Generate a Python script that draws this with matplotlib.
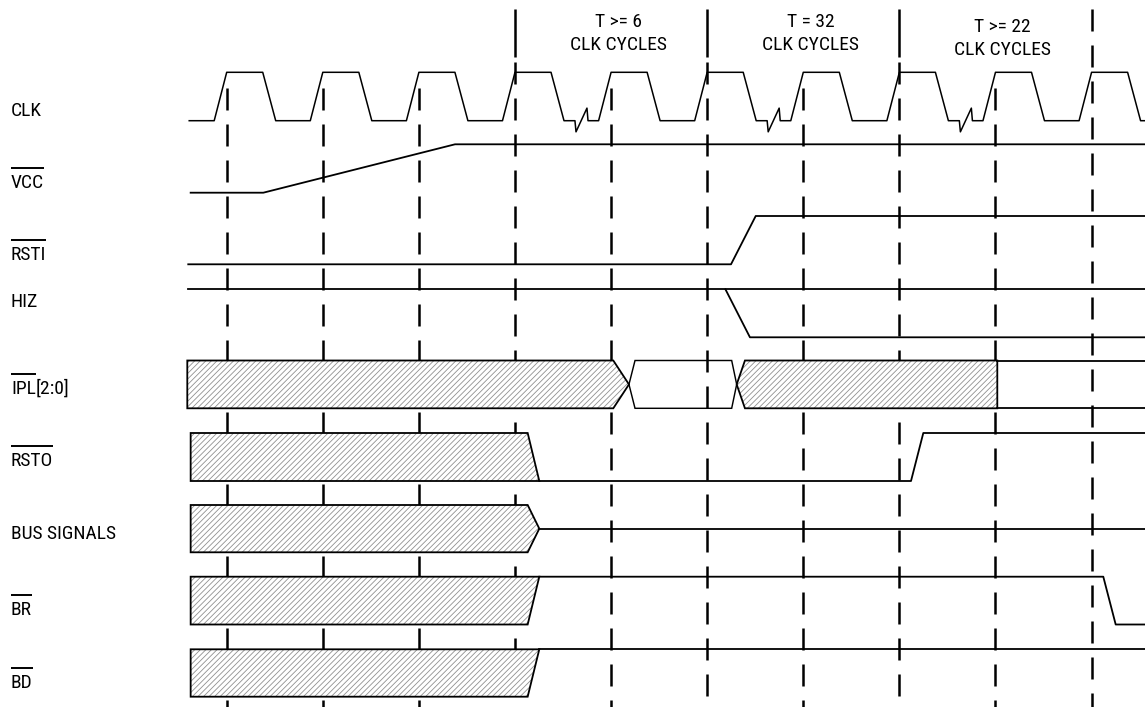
import matplotlib
matplotlib.use("Agg")
import matplotlib.pyplot as plt
from matplotlib import font_manager
from matplotlib.patches import Polygon
from matplotlib.transforms import blended_transform_factory

# time axis is measured in clock cycles, t=0 at the first dashed marker
T_START, T_END = -2.359, 9.556

# --- waveform data (time in cycles, level 0 = low, 1 = high) ---
clk_cycles = list(range(10))
clk_break_cycles = [3, 5, 7]
clk_shape_t = [0.0, 0.375, 0.51, 0.87]
clk_shape_v = [1, 1, 0, 0]
clk_break_t = [0.624, 0.635, 0.749, 0.76]
clk_break_v = [0, -0.23, 0.26, 0]

vcc_t = [-0.375, 0.381, 2.376, T_END]
vcc_v = [0, 0, 1, 1]
rsti_t = [-0.40, 5.248, 5.505, T_END]
rsti_v = [0, 0, 1, 1]
hiz_t = [-0.40, T_END]
hiz_v = [1, 1]
hiz_fall_t = [5.19, 5.445, T_END]
hiz_fall_v = [1, 0, 0]
rsto_t = [3.253, 7.121, 7.249, T_END]
rsto_v = [0, 0, 1, 1]
bus_t = [3.253, T_END]
bus_v = [0.5, 0.5]
br_t = [3.253, 9.122, 9.251, T_END]
br_v = [1, 1, 0, 0]
bd_t = [3.253, T_END]
bd_v = [1, 1]

# hatched (undefined) regions as (t, level) outlines
ipl_hatch_1 = [(-0.41, 0), (-0.41, 1), (4.023, 1), (4.186, 0.5), (4.023, 0)]
ipl_valid = [(4.186, 0.5), (4.249, 1), (5.255, 1), (5.307, 0.5), (5.255, 0), (4.249, 0)]
ipl_hatch_2 = [(5.307, 0.5), (5.393, 1), (8.019, 1), (8.019, 0), (5.393, 0)]
ipl_after_t = [8.019, T_END]
rsto_hatch = [(-0.375, 0), (-0.375, 1), (3.132, 1), (3.253, 0)]
bus_hatch = [(-0.375, 0), (-0.375, 1), (3.132, 1), (3.253, 0.5), (3.132, 0)]
br_hatch = [(-0.375, 0), (-0.375, 1), (3.253, 1), (3.132, 0)]
bd_hatch = [(-0.375, 0), (-0.375, 1), (3.253, 1), (3.132, 0)]

# --- layout: pixel rows (y of low level, y of high level) ---
rows = {
    "CLK": (120.7, 72.3),
    "VCC": (192.7, 144.3),
    "RSTI": (264.3, 216.0),
    "HIZ": (337.3, 289.3),
    "IPL": (408.3, 360.5),
    "RSTO": (481.0, 433.0),
    "BUS": (552.3, 505.0),
    "BR": (624.5, 576.7),
    "BD": (696.7, 649.3),
}

marker_t = list(range(10))
segment_marks = [3, 5, 7]

labels = [
    ("CLK", 116, False),
    ("VCC", 188, True),
    ("RSTI", 260, True),
    ("HIZ", 307, False),
    ("IPL", 394, True),
    ("RSTO", 466, True),
    ("BUS SIGNALS", 539, False),
    ("BR", 615, True),
    ("BD", 688, True),
]

notes = [
    (4.0, 27, "T >= 6"), (4.0, 50, "CLK CYCLES"),
    (6.0, 27, "T = 32"), (6.0, 50, "CLK CYCLES"),
    (8.0, 32, "T >= 22"), (8.0, 55, "CLK CYCLES"),
]
note_dx = 0.075

# pick a narrow sans font if available
available = {f.name for f in font_manager.fontManager.ttflist}
family = "Liberation Sans"
for cand in ["Liberation Sans Narrow", "Roboto Condensed", "DejaVu Sans Condensed"]:
    if cand in available:
        family = cand
        break
plt.rcParams["font.family"] = [family, "DejaVu Sans"]
plt.rcParams["lines.scale_dashes"] = False
plt.rcParams["hatch.linewidth"] = 0.6

LW = 1.3
PX = 0.72  # points per pixel at dpi 100


def lvl(row, v):
    lo, hi = rows[row]
    return [lo + (hi - lo) * x for x in v]


def poly(row, pts):
    lo, hi = rows[row]
    return [(t, lo + (hi - lo) * v) for t, v in pts]


fig = plt.figure(figsize=(11.45, 7.07), dpi=100)
ax = fig.add_axes([0, 0, 1, 1])
ax.set_xlim(T_START, T_END)
ax.set_ylim(707, 0)
ax.axis("off")

# dashed cycle markers
for t in marker_t:
    if t in segment_marks:
        ax.plot([t, t], [9, 57], color="black", lw=1.8, zorder=1, solid_capstyle="butt")
        y0 = 62
    elif t == 9:
        y0 = 9
    else:
        y0 = 88
    ax.plot([t, t], [y0, 707], color="black", lw=1.8, zorder=1,
            dashes=(22 * PX, 14 * PX), dash_capstyle="butt")

# clock
ct, cv = [-0.39, -0.13], [0, 0]
for k in clk_cycles:
    for dt, v in zip(clk_shape_t[:3], clk_shape_v[:3]):
        ct.append(k + dt)
        cv.append(v)
    if k in clk_break_cycles:
        for dt, v in zip(clk_break_t, clk_break_v):
            ct.append(k + dt)
            cv.append(v)
    if k != clk_cycles[-1]:
        ct.append(k + clk_shape_t[3])
        cv.append(clk_shape_v[3])
ct.append(T_END)
cv.append(0)
ax.plot(ct, lvl("CLK", cv), color="black", lw=1.1, zorder=3)

# simple signals
for row, t, v in [
    ("VCC", vcc_t, vcc_v), ("RSTI", rsti_t, rsti_v), ("HIZ", hiz_t, hiz_v),
    ("HIZ", hiz_fall_t, hiz_fall_v), ("RSTO", rsto_t, rsto_v),
    ("BUS", bus_t, bus_v), ("BR", br_t, br_v), ("BD", bd_t, bd_v),
]:
    ax.plot(t, lvl(row, v), color="black", lw=LW, zorder=3)

ax.plot(ipl_after_t, lvl("IPL", [1, 1]), color="black", lw=LW, zorder=3)
ax.plot(ipl_after_t, lvl("IPL", [0, 0]), color="black", lw=LW, zorder=3)

# hatched bus regions
for row, pts in [("IPL", ipl_hatch_1), ("IPL", ipl_hatch_2), ("RSTO", rsto_hatch),
                 ("BUS", bus_hatch), ("BR", br_hatch), ("BD", bd_hatch)]:
    xy = poly(row, pts)
    ax.add_patch(Polygon(xy, closed=True, facecolor="white", edgecolor="#909090",
                         hatch="//////", lw=0, zorder=2))
    ax.add_patch(Polygon(xy, closed=True, fill=False, edgecolor="black", lw=LW, zorder=3))
ax.add_patch(Polygon(poly("IPL", ipl_valid), closed=True, fill=False,
                     edgecolor="black", lw=LW * 0.8, zorder=3))

# labels
trans = blended_transform_factory(ax.transAxes, ax.transData)
label_x = 11 / 1145
texts = []
for name, base, bar in labels:
    txt = ax.text(label_x, base, name, transform=trans, fontsize=14, va="baseline", ha="left")
    texts.append((txt, base, bar))
fig.canvas.draw()
renderer = fig.canvas.get_renderer()
inv = ax.transData.inverted()
for txt, base, bar in texts:
    bb = txt.get_window_extent(renderer)
    (x0, _), (x1, _) = inv.transform([(bb.x0, bb.y0), (bb.x1, bb.y0)])
    if txt.get_text() == "IPL":
        ax.text(x1, base, "[2:0]", fontsize=14, va="baseline", ha="left")
    if bar:
        ax.plot([x0, x1], [base - 20.3, base - 20.3], color="black", lw=1.4,
                solid_capstyle="butt")

for t, base, s in notes:
    ax.text(t + note_dx, base, s, fontsize=14, va="baseline", ha="center")

fig.savefig("out.png", dpi=100)
